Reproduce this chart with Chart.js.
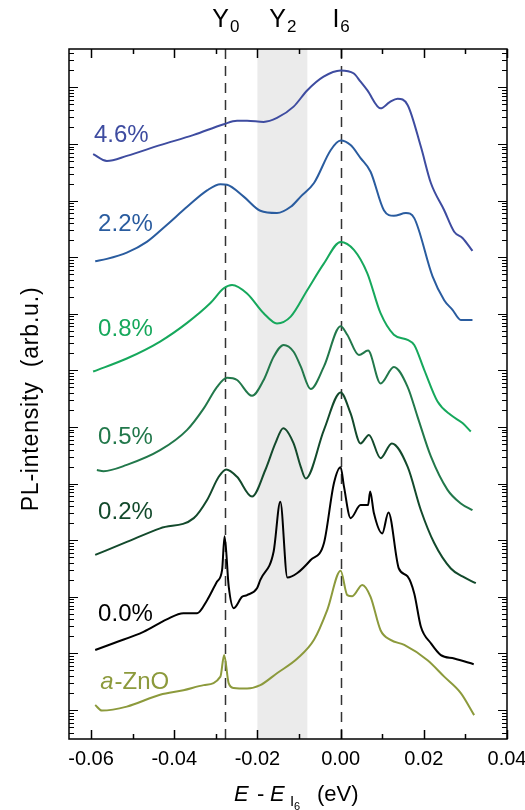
<!DOCTYPE html>
<html>
<head>
<meta charset="utf-8">
<script src="https://cdn.jsdelivr.net/npm/chart.js@4.4.1/dist/chart.umd.min.js"></script>
<style>
  html, body { margin: 0; padding: 0; background: #fff; }
  #wrap { width: 525px; height: 810px; position: relative; }
</style>
</head>
<body>
<div id="wrap"><canvas id="chart"></canvas></div>
<script>
// PL spectra: energy relative to I6 (eV) vs. log10 of PL intensity (decades, arb.u.), offset per sample
const LABELS = ['4.6%', '2.2%', '0.8%', '0.5%', '0.2%', '0.0%', 'a-ZnO'];

const E_46 = [-0.0595, -0.0562, -0.0514, -0.0434, -0.0353, -0.0281, -0.0249, -0.0225, -0.0185, -0.0153, -0.0113, -0.0080, -0.0041, 0, 0.0031, 0.0048, 0.0064, 0.0096, 0.0118, 0.0137, 0.0161, 0.0193, 0.0217, 0.0249, 0.0273, 0.0293, 0.0317];
const L_46 = [9.82, 9.70, 9.79, 9.98, 10.16, 10.35, 10.41, 10.41, 10.39, 10.46, 10.66, 10.95, 11.19, 11.30, 11.25, 11.10, 10.95, 10.63, 10.74, 10.80, 10.69, 9.95, 9.31, 8.83, 8.45, 8.34, 8.11];

const E_22 = [-0.0590, -0.0562, -0.0514, -0.0466, -0.0418, -0.0369, -0.0321, -0.0289, -0.0273, -0.0233, -0.0193, -0.0153, -0.0120, -0.0096, -0.0064, -0.0024, 0, 0.0024, 0.0048, 0.0072, 0.0104, 0.0128, 0.0157, 0.0177, 0.0221, 0.0249, 0.0269, 0.0289, 0.0317];
const L_22 = [7.93, 7.97, 8.08, 8.27, 8.57, 8.89, 9.18, 9.29, 9.28, 9.07, 8.82, 8.78, 8.89, 9.07, 9.31, 9.89, 10.06, 9.98, 9.75, 9.51, 8.83, 8.73, 8.78, 8.69, 7.66, 7.24, 7.07, 6.89, 6.89];

const E_08 = [-0.0595, -0.0514, -0.0434, -0.0369, -0.0313, -0.0281, -0.0261, -0.0225, -0.0185, -0.0153, -0.0120, -0.0080, -0.0040, 0, 0.0032, 0.0064, 0.0096, 0.0128, 0.0161, 0.0177, 0.0201, 0.0233, 0.0265, 0.0293, 0.0313];
const L_08 = [5.98, 6.21, 6.51, 6.84, 7.19, 7.45, 7.51, 7.36, 7.01, 6.83, 6.95, 7.42, 7.89, 8.27, 8.13, 7.72, 7.01, 6.63, 6.54, 6.45, 6.01, 5.45, 5.21, 5.07, 4.92];

const E_05 = [-0.0586, -0.0570, -0.0514, -0.0434, -0.0369, -0.0329, -0.0297, -0.0273, -0.0249, -0.0213, -0.0185, -0.0161, -0.0137, -0.0113, -0.0096, -0.0072, -0.0040, 0, 0.0016, 0.0044, 0.0066, 0.0096, 0.0128, 0.0161, 0.0185, 0.0217, 0.0257, 0.0289, 0.0317];
const L_05 = [4.24, 4.22, 4.33, 4.59, 4.95, 5.33, 5.71, 5.87, 5.83, 5.55, 5.83, 6.24, 6.45, 6.33, 6.07, 5.67, 6.07, 6.78, 6.63, 6.27, 6.35, 5.77, 6.06, 5.71, 5.18, 4.48, 3.89, 3.65, 3.53];

const E_02 = [-0.0590, -0.0514, -0.0434, -0.0353, -0.0321, -0.0293, -0.0275, -0.0249, -0.0213, -0.0181, -0.0157, -0.0138, -0.0113, -0.0096, -0.0084, -0.0040, 0, 0.0024, 0.0048, 0.0068, 0.0096, 0.0123, 0.0161, 0.0193, 0.0225, 0.0265, 0.0293, 0.0325];
const L_02 = [2.74, 2.97, 3.21, 3.39, 3.71, 4.12, 4.25, 4.12, 3.77, 4.24, 4.71, 4.98, 4.71, 4.30, 4.09, 4.95, 5.61, 5.24, 4.71, 4.86, 4.45, 4.71, 4.30, 3.53, 2.95, 2.50, 2.36, 2.24];

const E_00 = [-0.0590, -0.0546, -0.0474, -0.0418, -0.0378, -0.0345, -0.0321, -0.0297, -0.0285, -0.0279, -0.0269, -0.0257, -0.0237, -0.0225, -0.0201, -0.0193, -0.0161, -0.0145, -0.0128, -0.0104, -0.0072, -0.0040, -0.0016, 0, 0.0008, 0.0024, 0.0048, 0.0066, 0.0071, 0.0080, 0.0100, 0.0115, 0.0140, 0.0161, 0.0177, 0.0193, 0.0217, 0.0241, 0.0273, 0.0320];
const L_00 = [1.06, 1.18, 1.38, 1.60, 1.71, 1.71, 1.94, 2.27, 2.47, 3.07, 2.18, 1.80, 2.00, 2.03, 2.15, 2.30, 2.80, 3.68, 2.34, 2.42, 2.65, 2.95, 4.01, 4.29, 3.95, 3.39, 3.62, 3.62, 3.86, 3.48, 3.12, 3.49, 2.50, 2.36, 2.06, 1.47, 1.18, 0.97, 0.91, 0.81];

const E_ZNO = [-0.0590, -0.0574, -0.0514, -0.0434, -0.0378, -0.0329, -0.0289, -0.0280, -0.0269, -0.0257, -0.0225, -0.0193, -0.0153, -0.0104, -0.0064, -0.0032, 0, 0.0016, 0.0028, 0.0052, 0.0072, 0.0096, 0.0120, 0.0153, 0.0209, 0.0249, 0.0289, 0.0321];
const L_ZNO = [0.09, -0.01, 0.06, 0.27, 0.35, 0.44, 0.59, 0.97, 0.47, 0.39, 0.38, 0.44, 0.65, 0.91, 1.24, 1.77, 2.46, 2.03, 2.01, 2.21, 2.00, 1.41, 1.24, 1.15, 0.88, 0.59, 0.30, -0.09];

const X_TICKS = [-0.06, -0.04, -0.02, 0, 0.02, 0.04];
const X_MINOR = [-0.05, -0.03, -0.01, 0.01, 0.03];
const DECADES = [-1, 0, 1, 2, 3, 4, 5, 6, 7, 8, 9, 10, 11];
const MARKERS = [-0.0277, 0];             // Y0 and I6 positions
const BAND = [-0.020, -0.008];            // Y2 region
const PEAK_NAMES = [['Y', '0', -0.0277], ['Y', '2', -0.014], ['I', '6', 0]];
// label anchors in data units (energy, decade)
const LABEL_POS = [[-0.0593, 10.03], [-0.0583, 8.46], [-0.0583, 6.61], [-0.0583, 4.70], [-0.0583, 3.37], [-0.0583, 1.57], [-0.0578, 0.37]];

const COLORS = ['#3e4ca0', '#2a5c9f', '#16a85c', '#22784b', '#134a2c', '#000000', '#8c9a3c'];
const FONT = '"Liberation Sans", Arial, Helvetica, sans-serif';

const series = [[E_46, L_46], [E_22, L_22], [E_08, L_08], [E_05, L_05], [E_02, L_02], [E_00, L_00], [E_ZNO, L_ZNO]];

const datasets = series.map(([xs, ys], i) => ({
    label: LABELS[i],
    data: xs.map((x, j) => ({ x: x, y: ys[j] })),
    showLine: true,
    borderColor: COLORS[i],
    borderWidth: 2,
    pointRadius: 0,
    cubicInterpolationMode: 'monotone',
    fill: false
}));

const decor = {
    id: 'decor',
    beforeDatasetsDraw(chart) {
        const { ctx, chartArea: a, scales: { x } } = chart;
        ctx.save();
        // shaded Y2 band
        const b0 = x.getPixelForValue(BAND[0]), b1 = x.getPixelForValue(BAND[1]);
        ctx.fillStyle = '#ebebeb';
        ctx.fillRect(b0, a.top, b1 - b0, a.bottom - a.top);
        // dashed markers
        ctx.strokeStyle = '#333';
        ctx.lineWidth = 1.5;
        ctx.setLineDash([10, 7]);
        MARKERS.forEach(m => {
            const px = Math.round(x.getPixelForValue(m)) + 0.5;
            ctx.beginPath();
            ctx.moveTo(px, a.top);
            ctx.lineTo(px, a.bottom);
            ctx.stroke();
        });
        ctx.restore();
    },
    afterDatasetsDraw(chart) {
        const { ctx, chartArea: a, scales: { x, y } } = chart;
        ctx.save();
        ctx.strokeStyle = '#000';
        ctx.lineWidth = 1.5;
        ctx.strokeRect(a.left, a.top, a.right - a.left, a.bottom - a.top);

        // x ticks, bottom and top, pointing inward
        const xt = (v, len) => {
            const px = Math.round(x.getPixelForValue(v)) + 0.5;
            ctx.beginPath();
            ctx.moveTo(px, a.bottom); ctx.lineTo(px, a.bottom - len);
            ctx.moveTo(px, a.top); ctx.lineTo(px, a.top + len);
            ctx.stroke();
        };
        X_TICKS.forEach(v => xt(v, 9));
        X_MINOR.forEach(v => xt(v, 5));

        // y log ticks, left and right
        const yt = (v, len) => {
            if (v < y.min || v > y.max) return;
            const py = Math.round(y.getPixelForValue(v)) + 0.5;
            ctx.beginPath();
            ctx.moveTo(a.left, py); ctx.lineTo(a.left + len, py);
            ctx.moveTo(a.right, py); ctx.lineTo(a.right - len, py);
            ctx.stroke();
        };
        ctx.lineWidth = 1.2;
        DECADES.forEach(d => {
            yt(d, 9);
            for (let k = 2; k <= 9; k++) yt(d + Math.log10(k), 5);
        });

        // sample labels
        ctx.textBaseline = 'alphabetic';
        ctx.textAlign = 'left';
        LABELS.forEach((t, i) => {
            const px = x.getPixelForValue(LABEL_POS[i][0]);
            const py = y.getPixelForValue(LABEL_POS[i][1]);
            ctx.fillStyle = COLORS[i];
            if (t === 'a-ZnO') {
                ctx.font = 'italic 24px ' + FONT;
                ctx.fillText('a', px, py);
                const w = ctx.measureText('a').width;
                ctx.font = '24px ' + FONT;
                ctx.fillText('-ZnO', px + w + 1, py);
            } else {
                ctx.font = '24px ' + FONT;
                ctx.fillText(t, px, py);
            }
        });

        // peak names above plot
        ctx.fillStyle = '#000';
        PEAK_NAMES.forEach(([main, sub, v]) => {
            ctx.font = '25px ' + FONT;
            const w1 = ctx.measureText(main).width;
            ctx.font = '17px ' + FONT;
            const w2 = ctx.measureText(sub).width;
            const cx = x.getPixelForValue(v);
            const left = cx - (w1 + w2) / 2;
            const base = a.top - 22;
            ctx.font = '25px ' + FONT;
            ctx.fillText(main, left, base);
            ctx.font = '17px ' + FONT;
            ctx.fillText(sub, left + w1 + 1, base + 5);
        });

        // x title: E - E_I6  (eV)
        const cx = (a.left + a.right) / 2;
        const base = a.bottom + 62;
        ctx.font = 'italic 22px ' + FONT;
        ctx.fillText('E', cx - 54, base);
        ctx.font = '22px ' + FONT;
        ctx.fillText('-', cx - 31, base);
        ctx.font = 'italic 22px ' + FONT;
        ctx.fillText('E', cx - 18, base);
        ctx.font = '15px ' + FONT;
        ctx.fillText('I', cx + 2, base + 5);
        ctx.font = '11px ' + FONT;
        ctx.fillText('6', cx + 6, base + 9);
        ctx.font = '22px ' + FONT;
        ctx.fillText('(eV)', cx + 29, base);

        // y title
        ctx.save();
        ctx.translate(38, 399);
        ctx.rotate(-Math.PI / 2);
        ctx.textAlign = 'center';
        ctx.font = '23px ' + FONT;
        ctx.letterSpacing = '0.8px';
        ctx.fillText('PL-intensity  (arb.u.)', 0, 0);
        ctx.restore();

        ctx.restore();
    }
};

new Chart(document.getElementById('chart'), {
    type: 'scatter',
    data: { datasets },
    options: {
        responsive: true,
        maintainAspectRatio: false,
        animation: false,
        layout: { padding: { top: 49, right: 18, left: 0, bottom: 0 } },
        plugins: { legend: { display: false }, tooltip: { enabled: false } },
        scales: {
            x: {
                type: 'linear',
                min: -0.0653,
                max: 0.04,
                afterBuildTicks: s => { s.ticks = X_TICKS.map(v => ({ value: v })); },
                afterFit: s => { s.height = 71; s.paddingLeft = 0; s.paddingRight = 0; },
                grid: { display: false, drawTicks: false, tickLength: 0 },
                border: { display: false },
                ticks: {
                    color: '#000',
                    padding: 8,
                    maxRotation: 0,
                    font: { family: FONT, size: 20 },
                    callback: v => v.toFixed(2)
                }
            },
            y: {
                type: 'linear',
                min: -0.512,
                max: 11.678,
                afterFit: s => { s.width = 69; s.paddingTop = 0; s.paddingBottom = 0; },
                grid: { display: false, drawTicks: false },
                border: { display: false },
                ticks: { display: false }
            }
        }
    },
    plugins: [decor]
});
</script>
</body>
</html>
